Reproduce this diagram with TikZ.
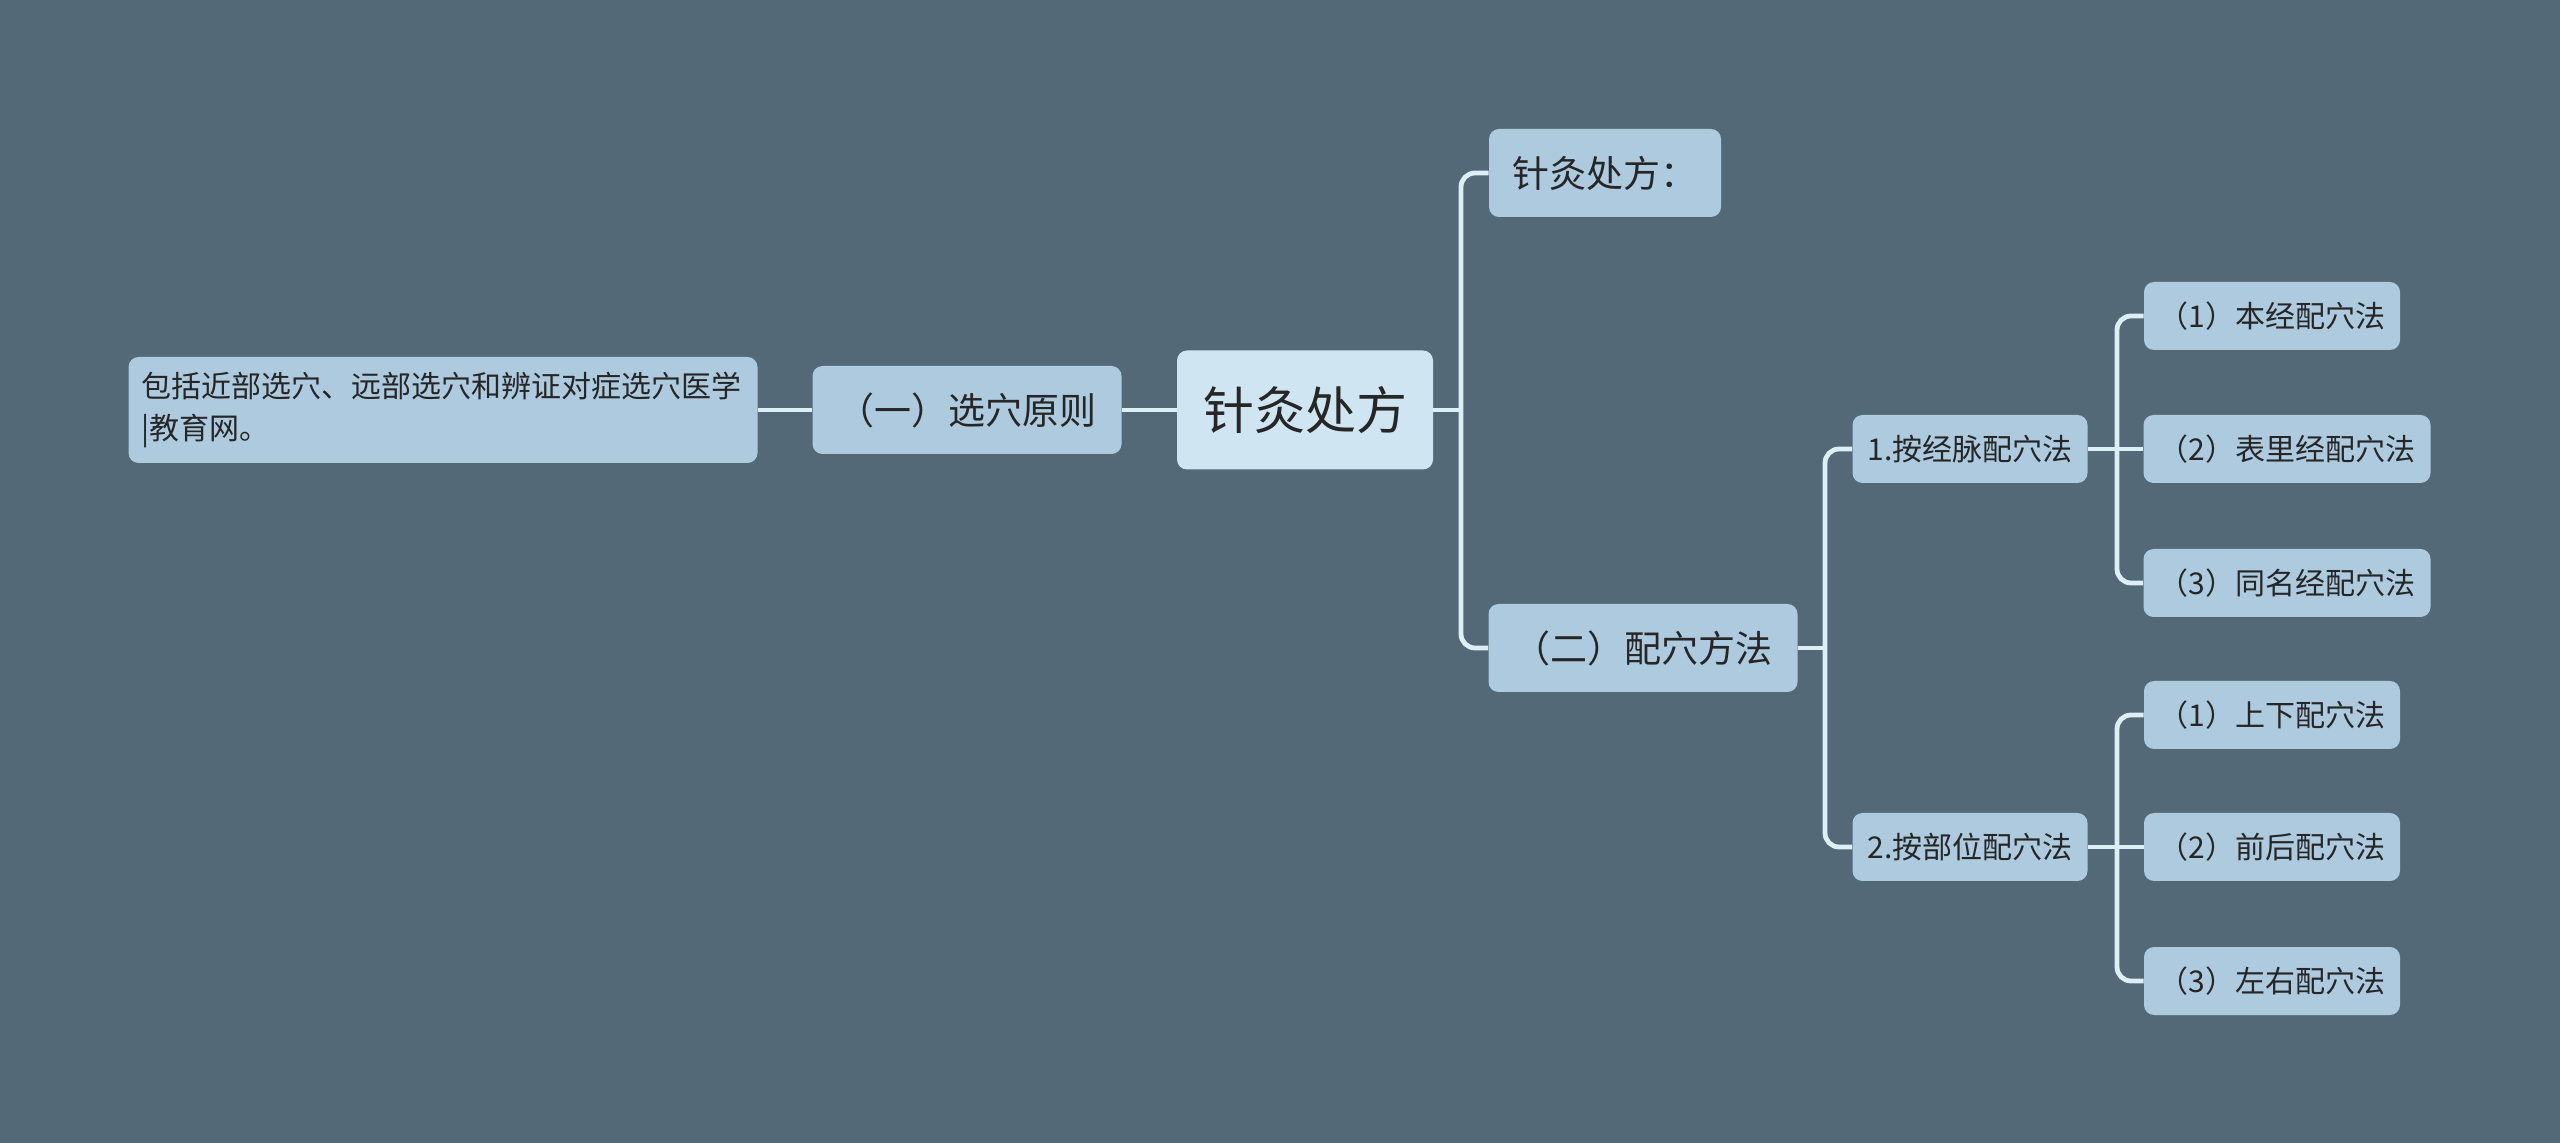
\documentclass[tikz,border=0pt]{standalone}
\usepackage{fontspec}
\setmainfont{Noto Sans CJK SC}
\definecolor{bg}{HTML}{536978}
\definecolor{nodefill}{HTML}{ADCADF}
\definecolor{rootfill}{HTML}{CFE5F2}
\definecolor{txt}{HTML}{262626}
\definecolor{linec}{HTML}{DCEEF6}
\tikzset{
  box/.style={draw=none, fill=nodefill, rounded corners=5pt, text=txt, inner sep=0pt, align=center},
  rootbox/.style={box, fill=rootfill, font=\fontsize{25.5pt}{30pt}\selectfont},
  lvone/.style={box, font=\fontsize{18.5pt}{22pt}\selectfont},
  lvtwo/.style={box, font=\fontsize{15pt}{18pt}\selectfont},
  conn/.style={draw=linec, line width=2.4pt, rounded corners=7pt},
}
\begin{document}
\begin{tikzpicture}[x=0.5pt, y=-0.5pt]
\useasboundingbox[fill=bg] (0,0) rectangle (2560,1143);

\node[rootbox, minimum width=128pt, minimum height=59.5pt] (root) at (1305,410) {针灸处方};
\node[lvone, minimum width=154.5pt, minimum height=44pt] (yi) at (967,410) {（一）选穴原则};
\node[lvtwo, minimum width=314.5pt, minimum height=53pt, text width=302pt, align=left, font=\fontsize{15pt}{21pt}\selectfont] (left) at (443,410) {包括近部选穴、远部选穴和辨证对症选穴医学\\|教育网。};
\node[lvone, minimum width=116pt, minimum height=44pt] (top) at (1605,173) {针灸处方：};
\node[lvone, minimum width=154.5pt, minimum height=44pt] (er) at (1643,648) {（二）配穴方法};

\node[lvtwo, minimum width=117.5pt, minimum height=34pt] (a1) at (1970,449) {1.按经脉配穴法};
\node[lvtwo, minimum width=117.5pt, minimum height=34pt] (a2) at (1970,847) {2.按部位配穴法};

\node[lvtwo, minimum width=128pt, minimum height=34pt] (b1) at (2272,316) {（1）本经配穴法};
\node[lvtwo, minimum width=143.5pt, minimum height=34pt] (b2) at (2287,449) {（2）表里经配穴法};
\node[lvtwo, minimum width=143.5pt, minimum height=34pt] (b3) at (2287,583) {（3）同名经配穴法};

\node[lvtwo, minimum width=128pt, minimum height=34pt] (c1) at (2272,715) {（1）上下配穴法};
\node[lvtwo, minimum width=128pt, minimum height=34pt] (c2) at (2272,847) {（2）前后配穴法};
\node[lvtwo, minimum width=128pt, minimum height=34pt] (c3) at (2272,981) {（3）左右配穴法};

% junctions
\coordinate (j0) at (1461,410);
\coordinate (j1) at (1825,648);
\coordinate (j2) at (2117,449);
\coordinate (j3) at (2117,847);

\draw[conn] (root.west) -- (yi.east);
\draw[conn] (yi.west) -- (left.east);
\draw[conn] (root.east) -- (j0);
\draw[conn] (j0) |- (top.west);
\draw[conn] (j0) |- (er.west);
\draw[conn] (er.east) -- (j1);
\draw[conn] (j1) |- (a1.west);
\draw[conn] (j1) |- (a2.west);
\draw[conn] (a1.east) -- (b2.west);
\draw[conn] (j2) |- (b1.west);
\draw[conn] (j2) |- (b3.west);
\draw[conn] (a2.east) -- (c2.west);
\draw[conn] (j3) |- (c1.west);
\draw[conn] (j3) |- (c3.west);
\end{tikzpicture}
\end{document}
